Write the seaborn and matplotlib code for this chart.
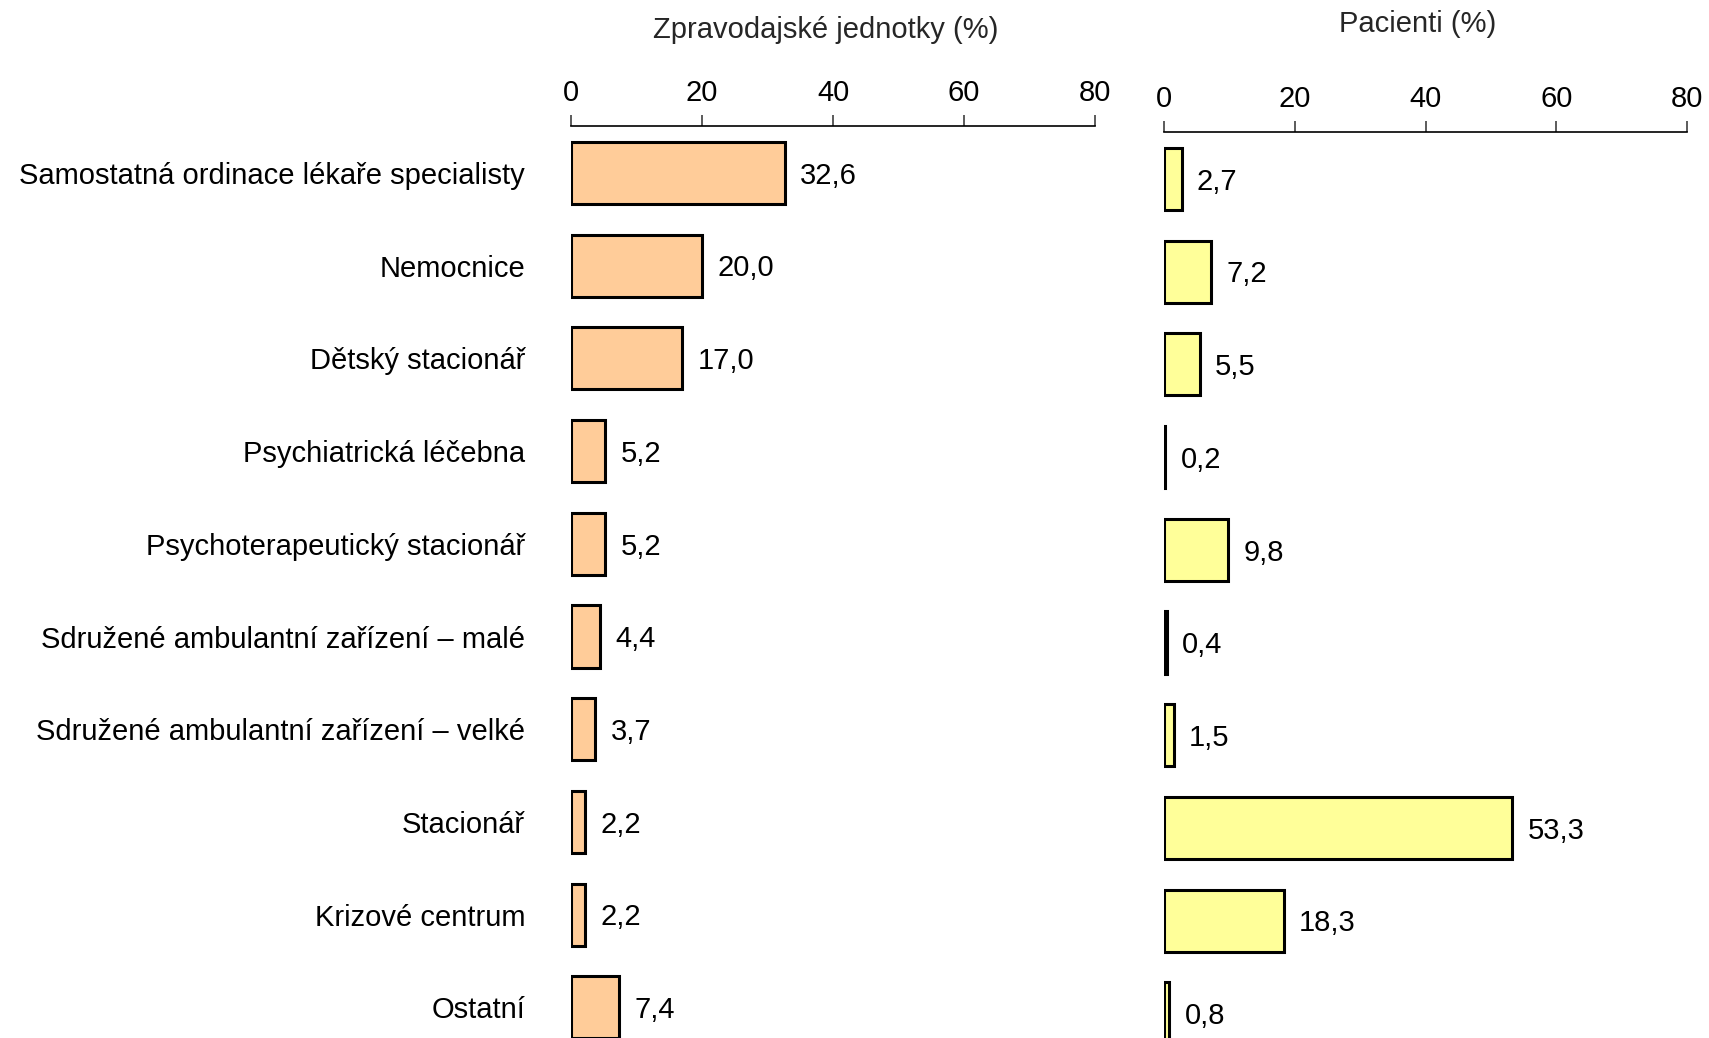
import matplotlib
matplotlib.use("Agg")
import matplotlib.pyplot as plt
import seaborn as sns
import pandas as pd

categories = [
    "Samostatná ordinace lékaře specialisty",
    "Nemocnice",
    "Dětský stacionář",
    "Psychiatrická léčebna",
    "Psychoterapeutický stacionář",
    "Sdružené ambulantní zařízení – malé",
    "Sdružené ambulantní zařízení – velké",
    "Stacionář",
    "Krizové centrum",
    "Ostatní",
]
units_pct = [32.6, 20.0, 17.0, 5.2, 5.2, 4.4, 3.7, 2.2, 2.2, 7.4]
patients_pct = [2.7, 7.2, 5.5, 0.2, 9.8, 0.4, 1.5, 53.3, 18.3, 0.8]
x_ticks = [0, 20, 40, 60, 80]

sns.set_theme(style="white")
plt.rcParams["font.family"] = ["Liberation Sans", "DejaVu Sans"]

W, H = 1709, 1038
fig = plt.figure(figsize=(W / 100, H / 100), dpi=100)

row_px = 92.7
top_off = 47 / row_px
fs = 21


def make_axes(x0, x1, y_top):
    return fig.add_axes([x0 / W, 0, (x1 - x0) / W, (H - y_top) / H])


ax_l = make_axes(571, 1095, 126)
ax_r = make_axes(1164, 1687, 132)

df = pd.DataFrame({"cat": categories, "units": units_pct, "patients": patients_pct})

panels = [
    (ax_l, "units", "#FFCC99", 126),
    (ax_r, "patients", "#FFFF99", 132),
]

for ax, col, color, y_top in panels:
    sns.barplot(data=df, x=col, y="cat", orient="h", color=color, width=0.67,
                edgecolor="black", linewidth=2.2, ax=ax, saturation=1)
    n_rows = (H - y_top) / row_px
    ax.set_ylim(n_rows - top_off, -top_off)
    ax.set_xlim(0, 80)
    ax.xaxis.tick_top()
    ax.set_xticks(x_ticks)
    ax.tick_params(axis="x", top=True, bottom=False, length=8, width=1.2,
                   color="#404040", pad=6, labelsize=fs, labelcolor="black")
    ax.set_xlabel("")
    ax.set_ylabel("")
    for side in ["bottom", "left", "right"]:
        ax.spines[side].set_visible(False)
    ax.spines["top"].set_color("black")
    ax.spines["top"].set_linewidth(1.2)
    for i, v in enumerate(df[col]):
        ax.annotate(f"{v:.1f}".replace(".", ","), (v, i), xytext=(11, -2),
                    textcoords="offset points", va="center", ha="left",
                    fontsize=fs, color="black")

ax_l.tick_params(axis="y", left=False, pad=27, labelsize=fs, labelcolor="black")
ax_r.set_yticklabels([])
ax_r.tick_params(axis="y", left=False)

fig.text(826 / W, 1 - 30 / H, "Zpravodajské jednotky (%)", ha="center",
         va="center", fontsize=fs)
fig.text(1418 / W, 1 - 24 / H, "Pacienti (%)", ha="center", va="center",
         fontsize=fs)

fig.savefig("out.png", dpi=100)
